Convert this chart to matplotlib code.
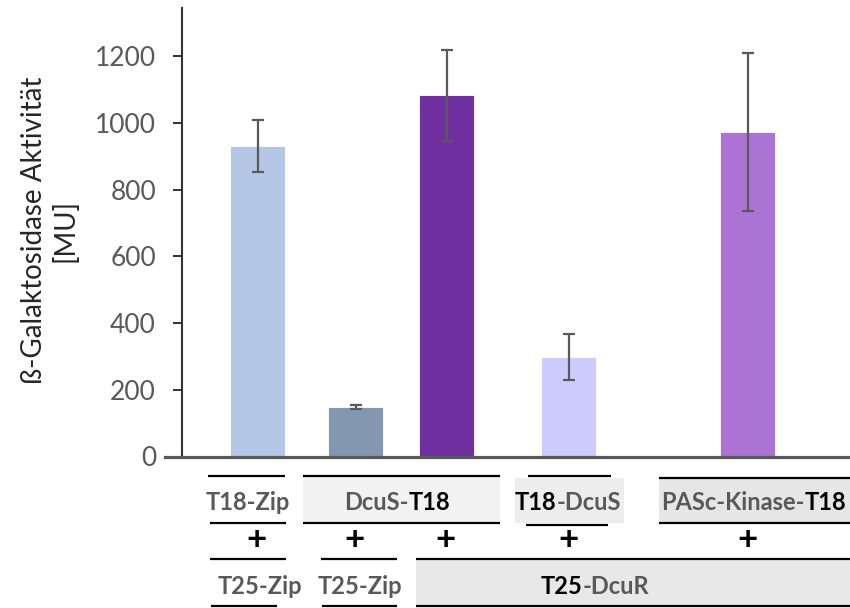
import matplotlib
matplotlib.use("Agg")
import matplotlib.pyplot as plt
from matplotlib.patches import Rectangle

plt.rcParams['font.family'] = ['Lato', 'DejaVu Sans']

# beta-galactosidase activity per strain combination
values = [930, 148, 1083, 298, 973]
errors = [78, 7, 137, 70, 236]
colors = ['#B4C7E7', '#8497B0', '#7030A0', '#CCCCFF', '#AB74D4']
yticks = [0, 200, 400, 600, 800, 1000, 1200]

# bar centres in figure pixel units (figure is 850 px wide)
xpos = [257.5, 355.5, 446.5, 568.7, 747.7]
bar_w = 55.5

GREY = '#595959'
W, H = 850, 608

fig = plt.figure(figsize=(W / 100, H / 100), dpi=100)
ax = fig.add_axes([181.7 / W, (H - 456.5) / H, (W - 181.7) / W, (456.5 - 8) / H])

ax.bar(xpos, values, width=bar_w, color=colors, edgecolor='white', linewidth=0.6, zorder=2)
ax.errorbar(xpos, values, yerr=errors, fmt='none', ecolor=GREY,
            elinewidth=1.6, capsize=4, capthick=1.6, zorder=3)

ax.set_xlim(181.7, W)
ax.set_ylim(0, 1345)
ax.set_yticks(yticks)
ax.set_xticks([])
ax.tick_params(axis='y', direction='out', length=6.5, width=1.4, color='#333333',
               labelsize=19, labelcolor=GREY, pad=12)
for s in ['top', 'right']:
    ax.spines[s].set_visible(False)
ax.spines['left'].set_color('#333333')
ax.spines['left'].set_linewidth(1.5)
ax.spines['bottom'].set_color(GREY)
ax.spines['bottom'].set_linewidth(2.3)
ax.spines['bottom'].set_bounds(165, W)
ax.spines['bottom'].set_zorder(4)

fig.text(50 / W, (H - 230) / H, 'ß-Galaktosidase Aktivität\n[MU]', rotation=90,
         ha='center', va='center', multialignment='center', fontsize=20,
         color='#262626', linespacing=1.2)

# construct table underneath the bars, drawn in pixel coordinates
tab = fig.add_axes([0, 0, 1, 1])
tab.set_xlim(0, W)
tab.set_ylim(H, 0)
tab.axis('off')
tab.patch.set_visible(False)


def hline(x0, x1, y):
    tab.plot([x0, x1], [y, y], color='black', lw=1.6, solid_capstyle='butt')


def box(x0, x1, y0, y1, fc):
    tab.add_patch(Rectangle((x0, y0), x1 - x0, y1 - y0, facecolor=fc, edgecolor='none'))


def label(xc, y, parts, size=17):
    renderer = fig.canvas.get_renderer()
    texts = [tab.text(0, y, s, color=c, fontsize=size, fontweight='bold',
                      ha='left', va='center') for s, c in parts]
    widths = [t.get_window_extent(renderer).width for t in texts]
    x = xc - sum(widths) / 2
    for t, w in zip(texts, widths):
        t.set_x(x)
        x += w


# row 1: T18 fusions
hline(208, 285, 476)
hline(210, 286, 523)
label(248, 502, [('T18-Zip', GREY)])

box(303, 500, 476, 523, '#F2F2F2')
hline(303, 500, 476)
hline(303, 500, 523)
label(397, 502, [('DcuS-', GREY), ('T18', 'black')])

box(515, 624, 478, 523, '#EDEDED')
hline(528, 611, 476)
hline(526, 608, 525)
label(568, 502, [('T18', 'black'), ('-DcuS', GREY)])

box(659, W, 478, 523, '#E7E6E6')
hline(659, W, 478)
hline(659, W, 523)
label(754, 502, [('PASc-Kinase-', GREY), ('T18', 'black')])

# row 2: plus signs under each bar
for x in xpos:
    tab.text(x - 0.5, 540, '+', fontsize=25, fontweight='bold', ha='center', va='center',
             color='black')

# row 3: T25 fusions
hline(210, 286, 559)
hline(211, 277, 606)
label(260, 586, [('T25-Zip', GREY)])

hline(321, 397, 559)
hline(322, 397, 606)
label(360, 586, [('T25-Zip', GREY)])

box(416, W, 559, 606, '#E8E8E8')
hline(416, W, 559)
hline(416, W, 606)
label(595, 586, [('T25', 'black'), ('-DcuR', GREY)])

fig.savefig('out.png', dpi=100)
